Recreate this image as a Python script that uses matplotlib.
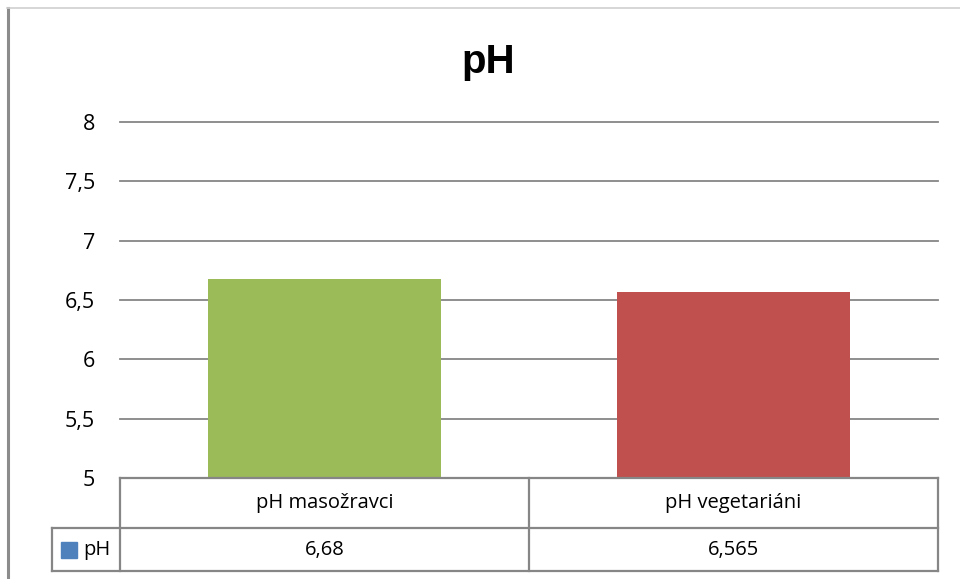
import matplotlib
matplotlib.use("Agg")
import matplotlib.pyplot as plt
from matplotlib.patches import Rectangle
from matplotlib.lines import Line2D

plt.rcParams['font.family'] = ['Open Sans', 'DejaVu Sans']

categories = ["pH masožravci", "pH vegetariáni"]
values = [6.68, 6.565]
value_labels = ["6,68", "6,565"]
bar_colors = ["#9BBB59", "#C0504D"]
series_name = "pH"
series_color = "#4F81BD"
yticks = [5, 5.5, 6, 6.5, 7, 7.5, 8]
ytick_labels = ["5", "5,5", "6", "6,5", "7", "7,5", "8"]

W, H = 960, 579
fig = plt.figure(figsize=(W / 100, H / 100), dpi=100)

# axes placed in pixel terms
left, right, top, bottom = 120, 938, 122, 478
ax = fig.add_axes([left / W, 1 - bottom / H, (right - left) / W, (bottom - top) / H])

x = list(range(len(categories)))
ax.bar(x, [v - 5 for v in values], bottom=5, width=0.572, color=bar_colors, zorder=3)
ax.set_xlim(-0.5, len(categories) - 0.5)
ax.set_ylim(5, 8)
ax.set_yticks(yticks)
ax.set_yticklabels(ytick_labels, fontsize=15.5)
ax.tick_params(axis='y', length=0, pad=18)
ax.tick_params(axis='x', bottom=False, labelbottom=False)
for s in ax.spines.values():
    s.set_visible(False)
for t in yticks[1:]:
    ax.axhline(t, color="#868686", lw=1.3, zorder=1, clip_on=False)

fig.text(488 / W, 1 - 73 / H, "pH", fontsize=29, fontweight="bold",
         family=["Liberation Sans", "DejaVu Sans"], ha="center", va="baseline")

# data table beneath the plot
grid_c = "#868686"
lw = 1.6
h1 = (528 - bottom) / (bottom - top)
h2 = (571 - bottom) / (bottom - top)
lx = (52 - left) / (right - left)
tr = ax.transAxes
lines = [
    ((0, 1), (0, 0)),
    ((lx, 1), (-h1, -h1)),
    ((lx, 1), (-h2, -h2)),
    ((0, 0), (0, -h2)),
    ((0.5, 0.5), (0, -h2)),
    ((1, 1), (0, -h2)),
    ((lx, lx), (-h1, -h2)),
]
for xs, ys in lines:
    ax.add_line(Line2D(xs, ys, transform=tr, color=grid_c, lw=lw, clip_on=False, zorder=4))

for i, (cat, lab) in enumerate(zip(categories, value_labels)):
    cx = (i + 0.5) / len(categories)
    ax.text(cx, -h1 / 2, cat, transform=tr, ha="center", va="center", fontsize=14.5)
    ax.text(cx, -(h1 + h2) / 2, lab, transform=tr, ha="center", va="center", fontsize=14.5)

sq = 16 / (right - left)
sqh = 16 / (bottom - top)
ax.add_patch(Rectangle(((61 - left) / (right - left), -(h1 + h2) / 2 - sqh / 2), sq, sqh,
                       transform=tr, color=series_color, clip_on=False))
ax.text((83 - left) / (right - left), -(h1 + h2) / 2, series_name, transform=tr,
        ha="left", va="center", fontsize=14.5)

# chart frame
fig.add_artist(Line2D([7.5 / W, 7.5 / W], [0, 1 - 8 / H], color="#8c8c8c", lw=2.2))
fig.add_artist(Line2D([7 / W, 1], [1 - 8 / H, 1 - 8 / H], color="#d0d0d0", lw=1.2))

fig.savefig("out.png", dpi=100)
